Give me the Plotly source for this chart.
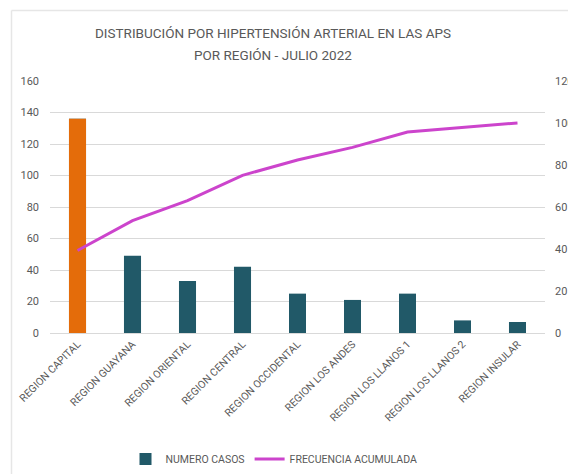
import plotly.graph_objects as go

regiones = ["REGION CAPITAL", "REGION GUAYANA", "REGION ORIENTAL", "REGION CENTRAL",
            "REGION OCCIDENTAL", "REGION LOS ANDES", "REGION LOS LLANOS 1",
            "REGION LOS LLANOS 2", "REGION INSULAR"]
numero_casos = [136, 49, 33, 42, 25, 21, 25, 8, 7]
frecuencia_acumulada = [39.3, 53.5, 63.0, 75.1, 82.4, 88.4, 95.7, 98.0, 100.0]
left_ticks = [0, 20, 40, 60, 80, 100, 120, 140, 160]
right_ticks = [0, 20, 40, 60, 80, 100, 120]
titulo = ["DISTRIBUCIÓN POR HIPERTENSIÓN ARTERIAL EN LAS APS", "POR REGIÓN - JULIO 2022"]

TEAL = "#215968"
ORANGE = "#E46C0A"
PINK = "#CC44CC"
GRAY = "#595959"
FONT = "Roboto"

W, H = 568, 474
L, R, T, B = 50, 23, 81, 141
pw, ph = W - L - R, H - T - B

def px_x(px):
    return (px - L) / pw

def px_y(py):
    return (H - B - py) / ph

highlight = [v if i == 0 else None for i, v in enumerate(numero_casos)]

fig = go.Figure()
fig.add_trace(go.Bar(x=regiones, y=numero_casos, name="NUMERO CASOS",
                     marker=dict(color=TEAL, line=dict(width=0)), width=0.31))
fig.add_trace(go.Bar(x=regiones, y=highlight, name="NUMERO CASOS", showlegend=False,
                     marker=dict(color=ORANGE, line=dict(width=0)), width=0.31))
fig.add_trace(go.Scatter(x=regiones, y=frecuencia_acumulada, name="FRECUENCIA ACUMULADA",
                         mode="lines", line=dict(color=PINK, width=3), yaxis="y2"))

title_annotations = [
    dict(text=line, x=px_x(273), y=px_y(yy), xref="paper", yref="paper",
         xanchor="center", yanchor="middle", showarrow=False,
         font=dict(size=13.5, color=GRAY, family=FONT))
    for line, yy in zip(titulo, [33, 55])
]

fig.update_layout(
    width=W, height=H,
    margin=dict(l=L, r=R, t=T, b=B, autoexpand=False),
    paper_bgcolor="white", plot_bgcolor="white",
    barmode="overlay",
    font=dict(family=FONT, color=GRAY, size=10),
    xaxis=dict(tickangle=-45, showgrid=False, showline=True, linecolor="#D9D9D9",
               ticks="", tickfont=dict(size=10.5, color=GRAY), fixedrange=True,
               automargin=False),
    yaxis=dict(range=[0, 160], tickvals=left_ticks, showgrid=True, gridcolor="#D9D9D9",
               gridwidth=1, zeroline=False, ticks="", tickfont=dict(size=11, color=GRAY),
               ticklabelstandoff=10, automargin=False),
    yaxis2=dict(range=[0, 120], tickvals=right_ticks, overlaying="y", side="right",
                showgrid=False, zeroline=False, ticks="", tickfont=dict(size=11, color=GRAY),
                ticklabelstandoff=9, automargin=False),
    showlegend=True,
    legend=dict(orientation="h", x=px_x(274), y=px_y(459), xanchor="center", yanchor="middle",
                font=dict(size=10.5, color=GRAY), itemwidth=30, traceorder="normal"),
    annotations=title_annotations,
    shapes=[
        dict(type="line", xref="paper", yref="paper", x0=px_x(11.5), x1=px_x(11.5),
             y0=px_y(10.5), y1=px_y(480), line=dict(color="#E6E6E6", width=1.5)),
        dict(type="line", xref="paper", yref="paper", x0=px_x(11.5), x1=px_x(580),
             y0=px_y(10.5), y1=px_y(10.5), line=dict(color="#E6E6E6", width=1.5)),
    ],
)

fig.write_html("out.html", config=dict(displayModeBar=False),
               post_script="document.body.style.margin='0';document.body.style.overflow='hidden';")
